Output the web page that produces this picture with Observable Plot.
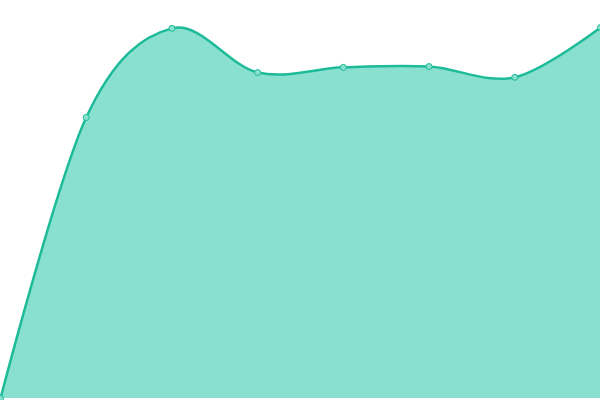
<!DOCTYPE html>
<html>
<head>
<meta charset="utf-8">
<script src="https://cdn.jsdelivr.net/npm/d3@7"></script>
<script src="https://cdn.jsdelivr.net/npm/@observablehq/plot@0.6"></script>
<style>
  html, body { margin: 0; padding: 0; background: #fff; }
</style>
</head>
<body>
<div id="chart"></div>
<script>
const categories = [0, 1, 2, 3, 4, 5, 6, 7];
const values = [0, 70.6, 93.0, 81.9, 83.2, 83.4, 80.7, 93.2];

const data = categories.map((c, i) => ({x: c, y: values[i]}));

const chart = Plot.plot({
  width: 600,
  height: 400,
  marginTop: 0,
  marginRight: 0,
  marginBottom: 2,
  marginLeft: 0,
  x: {domain: [0, 7], axis: null},
  y: {domain: [0, 100], axis: null},
  style: {overflow: "visible", background: "#fff"},
  marks: [
    Plot.areaY(data, {x: "x", y: "y", curve: "cardinal", fill: "#8ae0cf"}),
    Plot.lineY(data, {x: "x", y: "y", curve: "cardinal", stroke: "#1dbb98", strokeWidth: 2.5}),
    Plot.dot(data, {x: "x", y: "y", r: 3, fill: "#8ae0cf", stroke: "#1dbb98", strokeWidth: 1})
  ]
});
document.getElementById("chart").appendChild(chart);
</script>
</body>
</html>
